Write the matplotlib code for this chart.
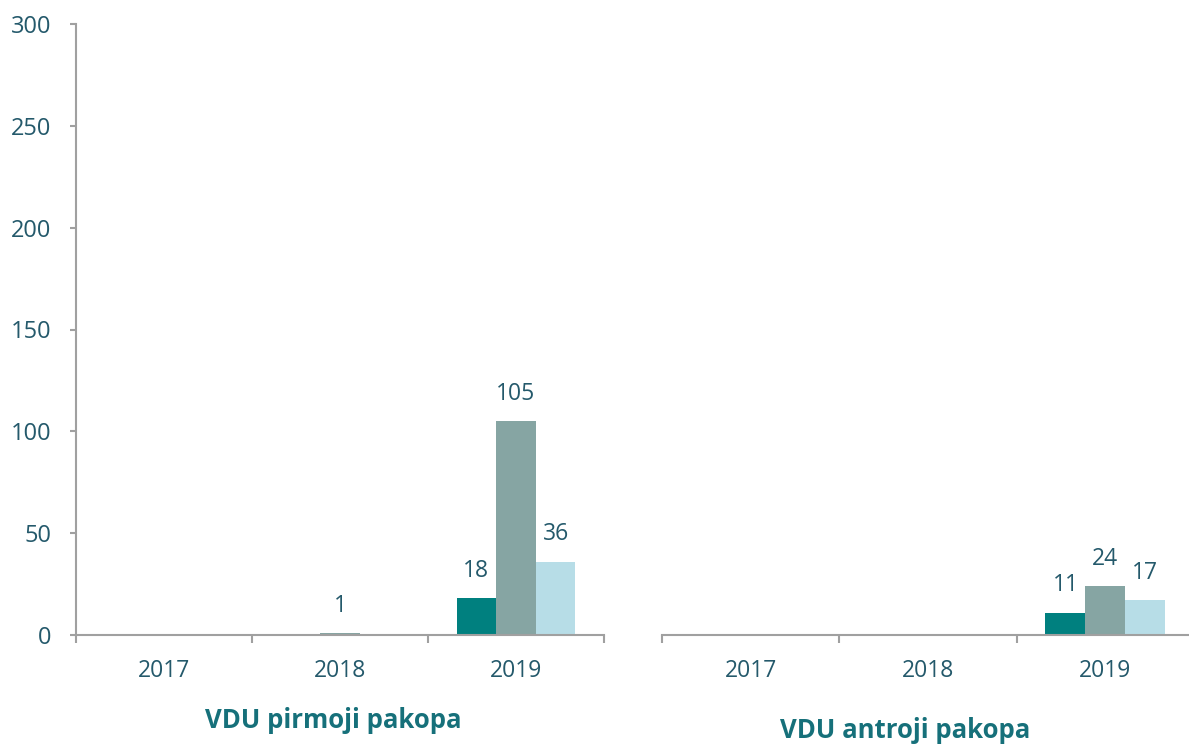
import numpy as np
import matplotlib.pyplot as plt

plt.rcParams['font.family'] = ['Open Sans', 'DejaVu Sans']

years = ['2017', '2018', '2019']
groups = ['VDU pirmoji pakopa', 'VDU antroji pakopa']
# three series per group (one per bar colour)
s1 = [[0, 0, 18], [0, 0, 11]]
s2 = [[0, 1, 105], [0, 0, 24]]
s3 = [[0, 0, 36], [0, 0, 17]]

colors = ['#00807F', '#86A5A3', '#B7DDE7']
txt = '#24596B'
title_col = '#16707A'
axis_col = '#A0A0A0'

fig = plt.figure(figsize=(11.89, 7.49), dpi=100)
ax1 = fig.add_axes([76/1189, 1-635/749, 528/1189, 611/749])
ax2 = fig.add_axes([662/1189, 1-635/749, 532/1189, 611/749])

x = np.arange(len(years))
w = 0.225
for gi, ax in enumerate([ax1, ax2]):
    for si, series in enumerate([s1, s2, s3]):
        vals = series[gi]
        bars = ax.bar(x + (si - 1) * w, vals, w, color=colors[si])
        for b, v in zip(bars, vals):
            if v > 0:
                ax.annotate(str(v), (b.get_x() + b.get_width()/2, v),
                            xytext=(0, 11), textcoords='offset points',
                            ha='center', va='bottom', fontsize=16.5, color=txt)
    ax.set_xlim(-0.5, 2.5)
    ax.set_ylim(0, 300)
    ax.set_xticks(x)
    ax.set_xticklabels(years)
    ax.set_xticks([-0.5, 0.5, 1.5, 2.5], minor=True)
    ax.tick_params(axis='x', which='major', length=0, pad=17, labelsize=16.5, labelcolor=txt)
    ax.tick_params(axis='x', which='minor', length=6, width=1.5, color=axis_col)
    for s in ['top', 'right']:
        ax.spines[s].set_visible(False)
    ax.spines['bottom'].set_color(axis_col)
    ax.spines['bottom'].set_linewidth(1.5)
    ax.patch.set_alpha(0)

ax1.set_yticks(range(0, 301, 50))
ax1.tick_params(axis='y', length=4, width=1.5, color=axis_col, pad=14, labelsize=17, labelcolor=txt)
ax1.spines['left'].set_color(axis_col)
ax1.spines['left'].set_linewidth(1.5)
ax2.spines['left'].set_visible(False)
ax2.set_yticks([])

fig.text(333/1189, 1-720/749, groups[0], ha='center', va='center',
         fontsize=18.5, fontweight='bold', color=title_col)
fig.text(905/1189, 1-730/749, groups[1], ha='center', va='center',
         fontsize=18.5, fontweight='bold', color=title_col)

fig.savefig('out.png', dpi=100)
